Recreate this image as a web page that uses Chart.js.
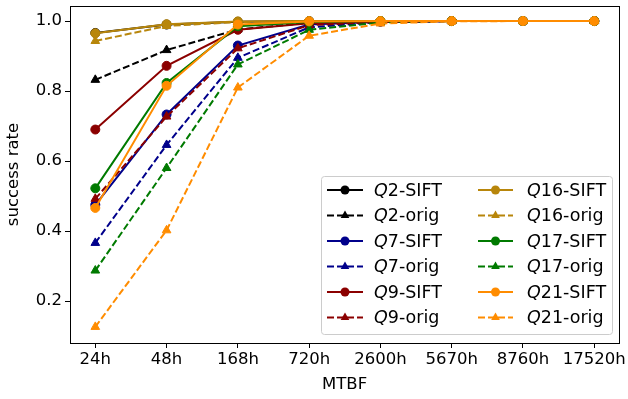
<!DOCTYPE html>
<html lang="en">
<head>
<meta charset="UTF-8">
<title>success rate vs MTBF</title>
<script src="https://cdn.jsdelivr.net/npm/chart.js"></script>
<style>
  html, body { margin: 0; padding: 0; background: #fff; }
  #wrap { width: 628px; height: 399px; position: relative; }
</style>
</head>
<body>
<div id="wrap"><canvas id="chart"></canvas></div>
<script>
// MTBF categories
const categories = ['24h', '48h', '168h', '720h', '2600h', '5670h', '8760h', '17520h'];
const yTicks = [0.2, 0.4, 0.6, 0.8, 1.0];

// success rate per query
const q2Sift  = [0.966, 0.990, 0.998, 1.000, 1.000, 1.000, 1.000, 1.000];
const q2Orig  = [0.832, 0.917, 0.976, 0.995, 0.999, 1.000, 1.000, 1.000];
const q7Sift  = [0.475, 0.733, 0.930, 0.990, 0.998, 1.000, 1.000, 1.000];
const q7Orig  = [0.366, 0.646, 0.895, 0.982, 0.997, 1.000, 1.000, 1.000];
const q9Sift  = [0.690, 0.872, 0.975, 0.994, 0.999, 1.000, 1.000, 1.000];
const q9Orig  = [0.492, 0.727, 0.922, 0.988, 0.998, 1.000, 1.000, 1.000];
const q16Sift = [0.965, 0.991, 0.999, 1.000, 1.000, 1.000, 1.000, 1.000];
const q16Orig = [0.943, 0.986, 0.997, 1.000, 1.000, 1.000, 1.000, 1.000];
const q17Sift = [0.522, 0.823, 0.985, 0.997, 1.000, 1.000, 1.000, 1.000];
const q17Orig = [0.287, 0.580, 0.876, 0.975, 0.996, 1.000, 1.000, 1.000];
const q21Sift = [0.466, 0.815, 0.990, 0.999, 1.000, 1.000, 1.000, 1.000];
const q21Orig = [0.126, 0.402, 0.810, 0.958, 0.993, 0.999, 1.000, 1.000];

const FONT = 'DejaVu Sans';
const FS = 16.5;

function series(q, variant, values, color) {
    const dashed = variant === 'orig';
    return {
        label: q + '-' + variant,
        q: q,
        data: values.map((v, i) => ({ x: i, y: v })),
        borderColor: color,
        backgroundColor: color,
        pointBackgroundColor: color,
        pointBorderColor: color,
        borderWidth: 2,
        borderDash: dashed ? [7, 3] : [],
        pointStyle: dashed ? 'triangle' : 'circle',
        pointRadius: dashed ? 5 : 4.5,
        pointBorderWidth: 1,
        tension: 0
    };
}

const datasets = [
    series('2', 'SIFT', q2Sift, '#000000'),
    series('2', 'orig', q2Orig, '#000000'),
    series('7', 'SIFT', q7Sift, '#00008b'),
    series('7', 'orig', q7Orig, '#00008b'),
    series('9', 'SIFT', q9Sift, '#8b0000'),
    series('9', 'orig', q9Orig, '#8b0000'),
    series('16', 'SIFT', q16Sift, '#b8860b'),
    series('16', 'orig', q16Orig, '#b8860b'),
    series('17', 'SIFT', q17Sift, '#007a00'),
    series('17', 'orig', q17Orig, '#007a00'),
    series('21', 'SIFT', q21Sift, '#ff8c00'),
    series('21', 'orig', q21Orig, '#ff8c00')
];
// later series drawn on top, like matplotlib
datasets.forEach((d, i) => { d.order = datasets.length - i; });

// frame around the plot area
const framePlugin = {
    id: 'frame',
    afterDatasetsDraw(chart) {
        const { ctx, chartArea: a } = chart;
        ctx.save();
        ctx.strokeStyle = '#000';
        ctx.lineWidth = 1;
        ctx.strokeRect(Math.round(a.left) + 0.5, Math.round(a.top) + 0.5,
            Math.round(a.right - a.left), Math.round(a.bottom - a.top));
        ctx.restore();
    }
};

// two-column legend with italic Q
const legendPlugin = {
    id: 'mplLegend',
    afterDraw(chart) {
        const ctx = chart.ctx;
        const box = { x: 321, y: 176, w: 291, h: 158 };
        ctx.save();
        ctx.fillStyle = 'rgba(255,255,255,0.8)';
        ctx.strokeStyle = '#cccccc';
        ctx.lineWidth = 1;
        ctx.beginPath();
        ctx.roundRect(box.x + 0.5, box.y + 0.5, box.w, box.h, 3);
        ctx.fill();
        ctx.stroke();

        const cols = [{ x0: 327, x1: 363, tx: 374 }, { x0: 478, x1: 513, tx: 527 }];
        const rowY0 = 190, rowH = 25.5;
        chart.data.datasets.forEach((d, i) => {
            const col = cols[Math.floor(i / 6)];
            const y = rowY0 + (i % 6) * rowH;
            ctx.strokeStyle = d.borderColor;
            ctx.lineWidth = 2;
            ctx.setLineDash(d.borderDash);
            ctx.beginPath();
            ctx.moveTo(col.x0, y);
            ctx.lineTo(col.x1, y);
            ctx.stroke();
            ctx.setLineDash([]);
            const cx = (col.x0 + col.x1) / 2;
            ctx.fillStyle = d.borderColor;
            ctx.beginPath();
            if (d.pointStyle === 'circle') {
                ctx.arc(cx, y, 4.5, 0, Math.PI * 2);
            } else {
                const r = 5;
                ctx.moveTo(cx, y - r);
                ctx.lineTo(cx + r * 0.87, y + r * 0.5);
                ctx.lineTo(cx - r * 0.87, y + r * 0.5);
                ctx.closePath();
            }
            ctx.fill();

            ctx.fillStyle = '#000';
            ctx.textBaseline = 'middle';
            ctx.textAlign = 'left';
            ctx.font = 'italic 17.5px "' + FONT + '"';
            ctx.fillText('Q', col.tx, y + 1);
            const w = ctx.measureText('Q').width;
            ctx.font = '17.5px "' + FONT + '"';
            ctx.fillText(d.q + '-' + d.label.split('-')[1], col.tx + w, y + 1);
        });
        ctx.restore();
    }
};

new Chart(document.getElementById('chart'), {
    type: 'line',
    data: { datasets: datasets },
    plugins: [framePlugin, legendPlugin],
    options: {
        responsive: true,
        maintainAspectRatio: false,
        animation: false,
        layout: { padding: { top: 6, right: 6, left: 0, bottom: 0 } },
        plugins: {
            legend: { display: false },
            tooltip: { enabled: false }
        },
        scales: {
            x: {
                type: 'linear',
                min: -0.355,
                max: 7.35,
                afterBuildTicks: (s) => { s.ticks = categories.map((c, i) => ({ value: i })); },
                afterFit: (s) => { s.height = 56; },
                ticks: {
                    callback: (v) => categories[v],
                    color: '#000',
                    font: { family: FONT, size: FS },
                    padding: 2,
                    maxRotation: 0,
                    autoSkip: false
                },
                grid: { drawOnChartArea: false, color: '#000', tickLength: 5 },
                border: { color: '#000' },
                title: {
                    display: true, text: 'MTBF', color: '#000',
                    font: { family: FONT, size: FS }, padding: { top: 2 }
                }
            },
            y: {
                min: 0.08,
                max: 1.043,
                afterBuildTicks: (s) => { s.ticks = yTicks.map(v => ({ value: v })); },
                afterFit: (s) => { s.width = 70; s.paddingTop = 0; s.paddingBottom = 0; },
                ticks: {
                    callback: (v) => v.toFixed(1),
                    color: '#000',
                    font: { family: FONT, size: FS },
                    padding: 3
                },
                grid: { drawOnChartArea: false, color: '#000', tickLength: 5 },
                border: { color: '#000' },
                title: {
                    display: true, text: 'success rate', color: '#000',
                    font: { family: FONT, size: FS }, padding: { bottom: 2 }
                }
            }
        }
    }
});
</script>
</body>
</html>
